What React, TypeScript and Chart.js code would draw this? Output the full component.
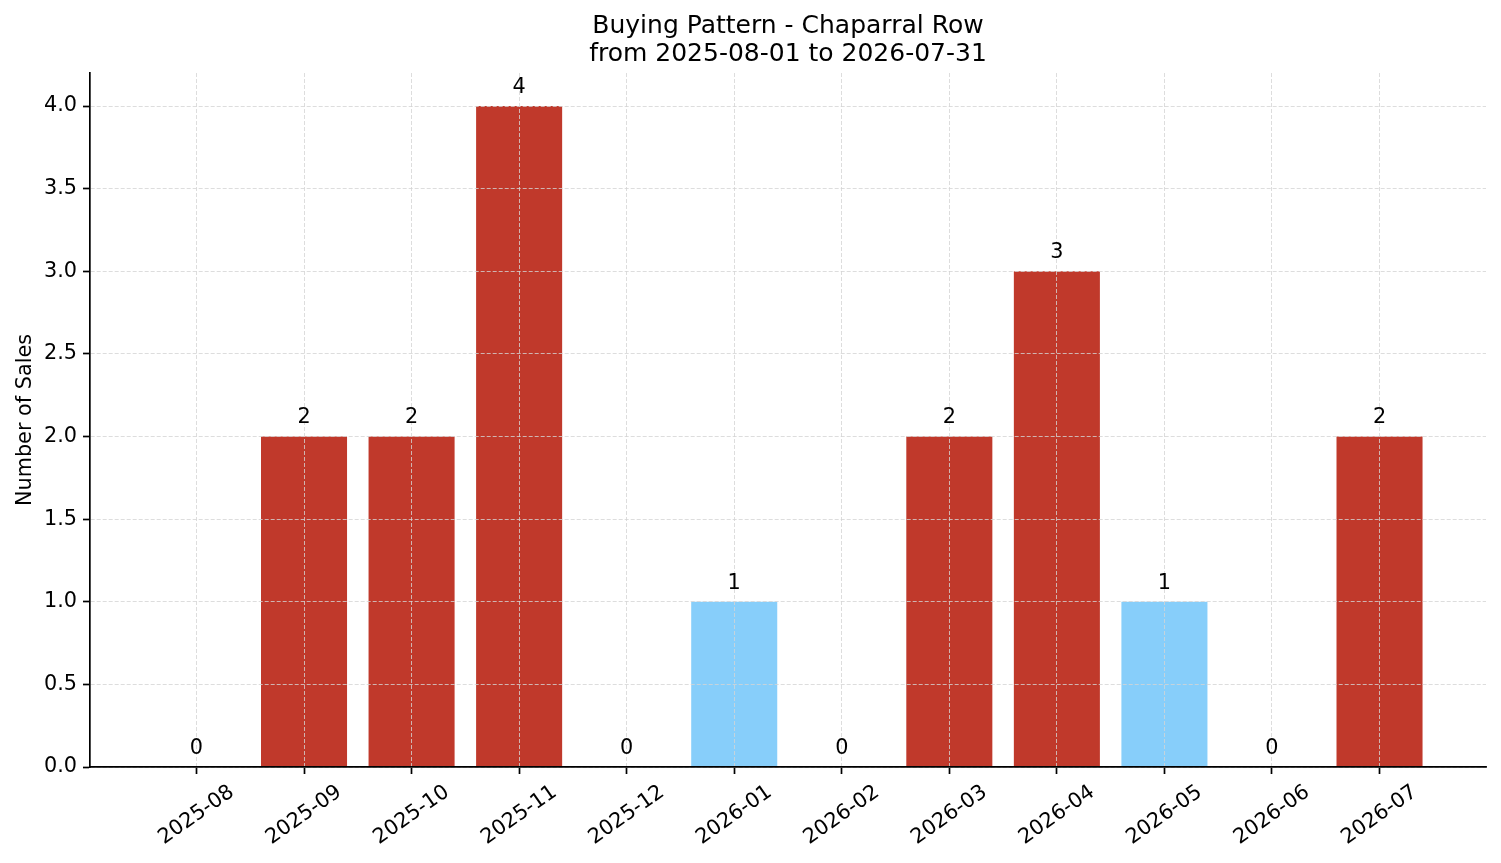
import React, { useEffect, useRef } from "react";
import { Chart, registerables } from "chart.js";

Chart.register(...registerables);

// ---- data ----
const months = [
  "2025-08", "2025-09", "2025-10", "2025-11", "2025-12", "2026-01",
  "2026-02", "2026-03", "2026-04", "2026-05", "2026-06", "2026-07",
];
const sales = [0, 2, 2, 4, 0, 1, 0, 2, 3, 1, 0, 2];
const yTickValues = [0, 0.5, 1, 1.5, 2, 2.5, 3, 3.5, 4];
const titleLines = ["Buying Pattern - Chaparral Row", "from 2025-08-01 to 2026-07-31"];
const yAxisLabel = "Number of Sales";

// ---- styles ----
const FONT = "'DejaVu Sans', 'Liberation Sans', sans-serif";
const RED = "#c0392b";
const BLUE = "#87cefa";
const GRID = "#d4d4d4";
const TICK_FONT = 20.8;

const barLabelPlugin = {
  id: "barLabels",
  afterDraw(chart: any) {
    const { ctx, scales } = chart;
    const x = scales.x;
    const y = scales.y;
    ctx.save();
    ctx.font = `${TICK_FONT}px ${FONT}`;
    ctx.fillStyle = "#000";
    ctx.textAlign = "center";
    ctx.textBaseline = "alphabetic";
    sales.forEach((v, i) => {
      const px = x.getPixelForValue(i);
      const py = y.getPixelForValue(v + 0.05) - 0.236 * TICK_FONT;
      ctx.fillText(String(v), px, py);
    });
    ctx.restore();
  },
};

const xLabelPlugin = {
  id: "xRotLabels",
  afterDraw(chart: any) {
    const { ctx, scales, chartArea } = chart;
    const x = scales.x;
    const ang = (35 * Math.PI) / 180;
    const top = chartArea.bottom + 7.3 + 7.3;
    ctx.save();
    ctx.font = `${TICK_FONT}px ${FONT}`;
    ctx.fillStyle = "#000";
    months.forEach((m, i) => {
      const px = x.getPixelForValue(i);
      const w = ctx.measureText(m).width;
      const h = TICK_FONT;
      const bh = w * Math.sin(ang) + h * Math.cos(ang);
      ctx.save();
      ctx.translate(px, top + bh / 2);
      ctx.rotate(-ang);
      ctx.textAlign = "center";
      ctx.textBaseline = "middle";
      ctx.fillText(m, 0, 0);
      ctx.restore();
    });
    ctx.restore();
  },
};

export default function App() {
  const canvasRef = useRef<HTMLCanvasElement | null>(null);

  useEffect(() => {
    const canvas = canvasRef.current;
    if (!canvas) return;
    const chart = new Chart(canvas, {
      type: "bar",
      data: {
        datasets: [
          {
            label: yAxisLabel,
            data: sales.map((v, i) => ({ x: i, y: v })),
            backgroundColor: sales.map((v) => (v >= 2 ? RED : BLUE)),
            borderWidth: 0,
            barPercentage: 0.8,
            categoryPercentage: 1,
          },
        ],
      },
      options: {
        responsive: false,
        animation: false,
        layout: { padding: { left: 0, right: 15, top: 0, bottom: 0 } },
        scales: {
          x: {
            type: "linear",
            min: -0.99,
            max: 11.99,
            offset: false,
            afterBuildTicks: (s: any) => {
              s.ticks = months.map((_, i) => ({ value: i }));
            },
            afterFit: (s: any) => {
              s.height = 96;
            },
            ticks: { display: false },
            grid: {
              offset: false,
              color: GRID,
              lineWidth: 0.8,
              tickLength: 7,
              tickColor: "#000",
              tickWidth: 1.7,
              z: 1,
            },
            border: { color: "#000", width: 1.7, dash: [4, 2], z: 2 },
          },
          y: {
            type: "linear",
            min: 0,
            max: 4.2,
            afterBuildTicks: (s: any) => {
              s.ticks = yTickValues.map((v) => ({ value: v }));
            },
            afterFit: (s: any) => {
              s.width = 90;
            },
            ticks: {
              font: { family: FONT, size: TICK_FONT },
              color: "#000",
              padding: 6,
              callback: (v: any) => Number(v).toFixed(1),
            },
            grid: {
              color: GRID,
              lineWidth: 0.8,
              tickLength: 7,
              tickColor: "#000",
              tickWidth: 1.7,
              z: 1,
            },
            border: { color: "#000", width: 1.7, dash: [4, 2], z: 2 },
            title: {
              display: true,
              text: yAxisLabel,
              color: "#000",
              font: { family: FONT, size: TICK_FONT, lineHeight: 1.2 },
              padding: { top: 13, bottom: 0 },
            },
          },
        },
        plugins: {
          legend: { display: false },
          tooltip: { enabled: false },
          title: {
            display: true,
            fullSize: false,
            text: titleLines,
            color: "#000",
            font: { family: FONT, size: 25, weight: "normal", lineHeight: 1.1 },
            padding: { top: 13, bottom: 5 },
          },
        },
      },
      plugins: [barLabelPlugin, xLabelPlugin],
    } as any);
    return () => chart.destroy();
  }, []);

  return (
    <div
      style={{
        position: "absolute",
        left: 0,
        top: 0,
        width: 1501,
        height: 863,
        background: "#fff",
      }}
    >
      <canvas ref={canvasRef} width={1501} height={863} />
    </div>
  );
}
